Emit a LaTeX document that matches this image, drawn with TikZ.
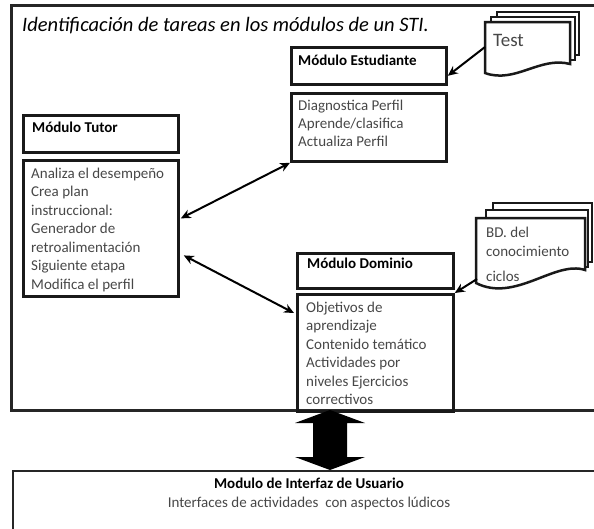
\documentclass[tikz,border=0pt]{standalone}
\usepackage{fontspec}
\setmainfont{Carlito}
\usetikzlibrary{arrows.meta}
\begin{document}
\begin{tikzpicture}[x=1pt,y=-1pt,
  frame/.style={draw=black!85, line width=3pt},
  mbox/.style={draw=black!90, line width=2.8pt, anchor=north west, inner sep=0pt},
  hdr/.style={font=\fontsize{15}{18.5}\selectfont\bfseries, anchor=base west, inner sep=0pt},
  txt/.style={font=\fontsize{15}{18.5}\selectfont, text=black!72, anchor=base west, inner sep=0pt},
  conn/.style={line width=2pt, -{Stealth[length=10pt,width=9pt]}},
  dconn/.style={line width=2pt, {Stealth[length=10pt,width=9pt]}-{Stealth[length=10pt,width=9pt]}},
  pagest/.style={draw=black!90, line width=2.5pt, fill=white},
]
\useasboundingbox (0,0) rectangle (594,528);
\clip (0,0) rectangle (594,528);

% outer frame
\draw[frame] (11,5) rectangle (620,410);

% title
\node[font=\fontsize{20.5}{24}\selectfont\itshape, anchor=base west, inner sep=0pt] (title) at (22,31)
  {Identificación de tareas en los módulos de un STI.};

% Modulo Estudiante
\node[mbox, minimum width=155, minimum height=37] (esth) at (290,46) {};
\node[hdr] (esthT) at (298,65) {Módulo Estudiante};
\node[mbox, minimum width=155, minimum height=68] (estb) at (290,92) {};
\foreach \t [count=\i] in {Diagnostica Perfil, Aprende/clasifica, Actualiza Perfil}
  \node[txt] (estT\i) at (298,{110+18*(\i-1)}) {\t};

% Modulo Tutor
\node[mbox, minimum width=155, minimum height=37] (tuth) at (22,114) {};
\node[hdr] (tuthT) at (32,132) {Módulo Tutor};
\node[mbox, minimum width=155, minimum height=136] (tutb) at (22,159) {};
\foreach \t [count=\i] in {Analiza el desempeño, Crea plan, instruccional:, Generador  de, retroalimentación, Siguiente etapa, Modifica el perfil}
  \node[txt] (tutT\i) at (31,{178+18.5*(\i-1)}) {\t};

% Modulo Dominio
\node[mbox, minimum width=156, minimum height=35] (domh) at (296,252) {};
\node[hdr] (domhT) at (307,268) {Módulo Dominio};
\node[mbox, minimum width=156, minimum height=117] (domb) at (296,293) {};
\foreach \t [count=\i] in {Objetivos de, aprendizaje, Contenido temático, Actividades por, niveles Ejercicios, correctivos}
  \node[txt] (domT\i) at (306,{312+18.5*(\i-1)}) {\t};

% Test document stack
\draw[pagest] (497,12) rectangle (579,55);
\draw[pagest] (491,17) rectangle (575,60);
\draw[pagest] (485,22) -- (570,22) -- (570,64) .. controls (540,56) and (515,84) .. (485,73) -- cycle;
\node[font=\fontsize{19}{22}\selectfont, text=black!72, anchor=base west, inner sep=0pt] (test) at (493,46) {Test};
\coordinate (testw) at (485,47);

% BD document stack
\draw[pagest] (493,203) rectangle (592,262);
\draw[pagest] (486,210) rectangle (588,267);
\draw[pagest] (476,218) -- (585,218) -- (585,270) .. controls (555,260) and (515,303) .. (476,283) -- cycle;
\node[txt] (bd1) at (486,237) {BD. del};
\node[txt] (bd2) at (486,256) {conocimiento};
\node[txt] (bd3) at (486,281) {ciclos};
\coordinate (bdw) at (477,279);

% connectors
\draw[conn] (testw) -- ([yshift=10pt]esth.south east);
\draw[conn] (bdw) -- (domb.north east);
\draw[dconn] ([yshift=10pt,xshift=1pt]tutb.east) -- (estb.south west);
\draw[dconn] ([yshift=-27pt,xshift=4pt]tutb.east) -- ([yshift=-20pt,xshift=-2pt]domb.north west);

% User interface module
\node[draw=black!85, line width=1.8pt, anchor=north west, minimum width=620, minimum height=80, inner sep=0pt] (ui) at (12,470) {};
\node[hdr, anchor=base] (uiT1) at (309,488) {Modulo de Interfaz de Usuario};
\node[txt, anchor=base] (uiT2) at (309,507) {Interfaces de actividades\ \ con aspectos lúdicos};

% big double arrow
\fill (330,410) -- (365,423) -- (347,423) -- (347,457) -- (365,457) -- (330,470)
  -- (295,457) -- (313,457) -- (313,423) -- (295,423) -- cycle;
\end{tikzpicture}
\end{document}
